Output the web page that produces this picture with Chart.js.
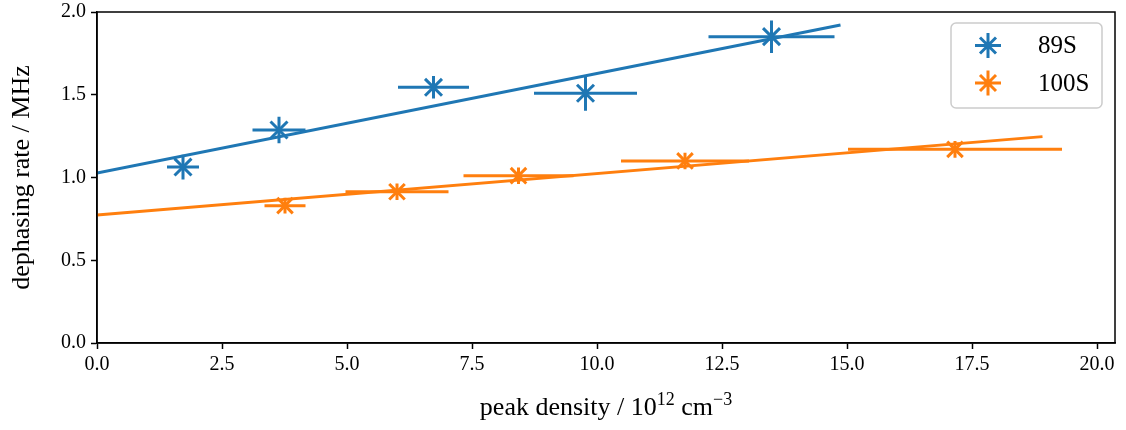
<!DOCTYPE html>
<html><head><meta charset="utf-8">
<script src="https://cdn.jsdelivr.net/npm/chart.js@4"></script>
<style>html,body{margin:0;padding:0;background:#fff}#wrap{width:1126px;height:430px;position:relative}</style>
</head><body><div id="wrap"><canvas id="c"></canvas></div>
<script>
// ---- data ----
const seriesNames = ['89S', '100S'];
const x89 = [1.72, 3.64, 6.73, 9.77, 13.49];
const y89 = [1.063, 1.287, 1.545, 1.509, 1.851];
const xerr89 = [0.32, 0.53, 0.71, 1.03, 1.26];
const yerr89 = [0.075, 0.08, 0.068, 0.106, 0.098];
const x100 = [3.76, 6.0, 8.43, 11.76, 17.16];
const y100 = [0.83, 0.914, 1.011, 1.10, 1.17];
const xerr100 = [0.41, 1.03, 1.10, 1.28, 2.14];
const yerr100 = [0.047, 0.05, 0.05, 0.05, 0.05];
const fit89X = [0, 14.87];
const fit89Y = [1.027, 1.921];
const fit100X = [0, 18.91];
const fit100Y = [0.773, 1.247];
const xTickValues = [0, 2.5, 5, 7.5, 10, 12.5, 15, 17.5, 20];
const yTickValues = [0, 0.5, 1.0, 1.5, 2.0];
const xLabelParts = ['peak density / 10', '12', ' cm', '\u22123'];
const yLabel = 'dephasing rate / MHz';

const C1 = '#1f77b4', C2 = '#ff7f0e';
const FONT = "'Liberation Serif', 'Times New Roman', serif";
const FS = 20;      // tick labels
const LFS = 26;     // axis labels
const GFS = 25;     // legend

const pts = (xs, ys) => xs.map((x, i) => ({x: x, y: ys[i]}));

const errorBars = {
  id: 'errorBars',
  beforeDatasetsDraw(chart) {
    const {ctx, scales: {x, y}} = chart;
    ctx.save();
    ctx.beginPath();
    ctx.rect(chart.chartArea.left, chart.chartArea.top, chart.chartArea.right - chart.chartArea.left, chart.chartArea.bottom - chart.chartArea.top);
    ctx.clip();
    chart.data.datasets.forEach(ds => {
      if (!ds.xErr) return;
      ctx.strokeStyle = ds.borderColor;
      ctx.lineWidth = 3;
      ds.data.forEach((p, i) => {
        const px = x.getPixelForValue(p.x), py = y.getPixelForValue(p.y);
        ctx.beginPath();
        ctx.moveTo(x.getPixelForValue(p.x - ds.xErr[i]), py);
        ctx.lineTo(x.getPixelForValue(p.x + ds.xErr[i]), py);
        ctx.moveTo(px, y.getPixelForValue(p.y - ds.yErr[i]));
        ctx.lineTo(px, y.getPixelForValue(p.y + ds.yErr[i]));
        ctx.stroke();
      });
    });
    ctx.restore();
  }
};

const decorations = {
  id: 'decorations',
  afterDraw(chart) {
    const {ctx, chartArea: a} = chart;
    ctx.save();
    ctx.strokeStyle = '#000';
    ctx.lineWidth = 1.5;
    ctx.strokeRect(a.left, a.top, a.right - a.left, a.bottom - a.top);
    // legend
    const lx = 951, ly = 23, lw = 151, lh = 85, r = 5;
    ctx.fillStyle = 'rgba(255,255,255,0.8)';
    ctx.strokeStyle = '#cccccc';
    ctx.lineWidth = 1.5;
    ctx.beginPath();
    ctx.roundRect(lx, ly, lw, lh, r);
    ctx.fill();
    ctx.stroke();
    const entries = chart.data.datasets.filter(d => d.xErr);
    entries.forEach((ds, k) => {
      const cy = 45.5 + k * 37.5, cx = 988;
      ctx.strokeStyle = ds.borderColor;
      ctx.lineWidth = 3;
      ctx.beginPath();
      ctx.moveTo(cx - 13, cy); ctx.lineTo(cx + 13, cy);
      ctx.moveTo(cx, cy - 12.5); ctx.lineTo(cx, cy + 12.5);
      const d = 8;
      ctx.moveTo(cx - d, cy - d); ctx.lineTo(cx + d, cy + d);
      ctx.moveTo(cx - d, cy + d); ctx.lineTo(cx + d, cy - d);
      ctx.stroke();
      ctx.fillStyle = '#000';
      ctx.font = GFS + 'px ' + FONT;
      ctx.textBaseline = 'middle';
      ctx.textAlign = 'left';
      ctx.fillText(ds.label, 1038, cy + 1);
    });
    // x label with superscripts
    ctx.fillStyle = '#000';
    ctx.textBaseline = 'alphabetic';
    ctx.textAlign = 'left';
    const big = LFS + 'px ' + FONT, small = Math.round(LFS * 0.7) + 'px ' + FONT;
    const sizes = xLabelParts.map((t, i) => { ctx.font = (i % 2 ? small : big); return ctx.measureText(t).width; });
    const total = sizes.reduce((s, v) => s + v, 0);
    let xx = (a.left + a.right) / 2 - total / 2;
    const base = 415;
    xLabelParts.forEach((t, i) => {
      ctx.font = (i % 2 ? small : big);
      ctx.fillText(t, xx, i % 2 ? base - 10 : base);
      xx += sizes[i];
    });
    // y label
    ctx.font = big;
    ctx.translate(22, (a.top + a.bottom) / 2);
    ctx.rotate(-Math.PI / 2);
    ctx.textAlign = 'center';
    ctx.textBaseline = 'middle';
    ctx.fillText(yLabel, 0, 0);
    ctx.restore();
  }
};

new Chart(document.getElementById('c'), {
  type: 'scatter',
  data: {
    datasets: [
      {label: seriesNames[0], data: pts(x89, y89), xErr: xerr89, yErr: yerr89,
       borderColor: C1, backgroundColor: C1, pointStyle: 'crossRot', pointRadius: 12, pointBorderWidth: 3, order: 2},
      {label: seriesNames[1], data: pts(x100, y100), xErr: xerr100, yErr: yerr100,
       borderColor: C2, backgroundColor: C2, pointStyle: 'crossRot', pointRadius: 11, pointBorderWidth: 3, order: 2},
      {type: 'line', label: 'fit 89S', data: pts(fit89X, fit89Y), borderColor: C1, borderWidth: 3, pointRadius: 0, showLine: true, fill: false, order: 1},
      {type: 'line', label: 'fit 100S', data: pts(fit100X, fit100Y), borderColor: C2, borderWidth: 3, pointRadius: 0, showLine: true, fill: false, order: 1}
    ]
  },
  options: {
    responsive: true,
    maintainAspectRatio: false,
    animation: false,
    devicePixelRatio: 1,
    layout: {autoPadding: false, padding: {top: 12, right: 11, left: 0, bottom: 0}},
    plugins: {legend: {display: false}, tooltip: {enabled: false}},
    scales: {
      x: {
        type: 'linear', min: 0, max: 20.36,
        afterFit(s) { s.height = 87; s.paddingLeft = 0; s.paddingRight = 0; },
        afterBuildTicks(s) { s.ticks = xTickValues.map(v => ({value: v})); },
        grid: {drawOnChartArea: false, drawTicks: true, tickLength: 6, tickWidth: 1.5, tickColor: '#000'},
        border: {display: true, color: '#000', width: 1.5},
        ticks: {color: '#000', font: {family: FONT, size: FS}, padding: 4, maxRotation: 0,
                callback: v => Number(v).toFixed(1)}
      },
      y: {
        type: 'linear', min: 0, max: 2.0,
        afterFit(s) { s.width = 97; s.paddingTop = 0; s.paddingBottom = 0; },
        afterBuildTicks(s) { s.ticks = yTickValues.map(v => ({value: v})); },
        grid: {drawOnChartArea: false, drawTicks: true, tickLength: 6, tickWidth: 1.5, tickColor: '#000'},
        border: {display: true, color: '#000', width: 1.5},
        ticks: {color: '#000', font: {family: FONT, size: FS}, padding: 5,
                callback: v => Number(v).toFixed(1)}
      }
    }
  },
  plugins: [errorBars, decorations]
});
</script>
</body></html>
